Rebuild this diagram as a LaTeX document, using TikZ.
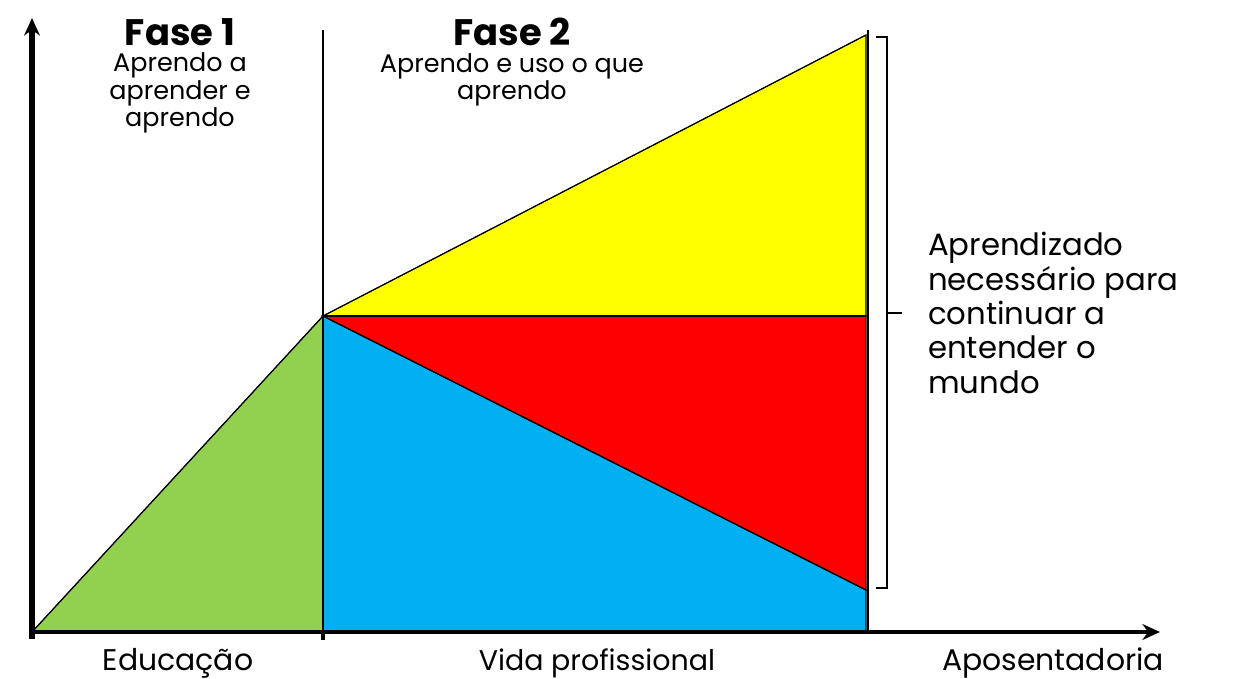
\documentclass[tikz,border=0pt]{standalone}
\usepackage{fontspec}
\setmainfont{Poppins}
\usetikzlibrary{arrows.meta, positioning}

\begin{document}
\begin{tikzpicture}[
      x=0.02cm, y=-0.02cm,
      area/.style={draw=black, line width=0.6pt},
      axis/.style={-{Stealth[length=10pt, width=9pt]}, black},
      phase/.style={font=\fontsize{21}{24}\selectfont\bfseries, anchor=north, inner sep=1pt},
      note/.style={font=\fontsize{14.5}{15.5}\selectfont, align=center, anchor=north, inner sep=1pt},
      label/.style={font=\fontsize{17}{19}\selectfont, anchor=base}
    ]
      \useasboundingbox (0,0) rectangle (1242,679);

      % Key points
      \coordinate (orig) at (32,632);
      \coordinate (peak) at (323,316);
      \coordinate (split) at (323,632);
      \coordinate (ytop) at (866,35);
      \coordinate (ymid) at (866,316);
      \coordinate (rlow) at (866,590);
      \coordinate (bend) at (866,632);
      \coordinate (yend) at (32,18);
      \coordinate (xend) at (1160,632);

      % Coloured areas
      \fill[area, fill={rgb,255:red,146;green,208;blue,80}] (orig) -- (peak) -- (split) -- cycle;
      \fill[area, fill={rgb,255:red,0;green,176;blue,240}] (peak) -- (rlow) -- (bend) -- (split) -- cycle;
      \fill[area, fill={rgb,255:red,255;green,0;blue,0}] (peak) -- (ymid) -- (rlow) -- cycle;
      \fill[area, fill={rgb,255:red,255;green,255;blue,0}] (peak) -- (ytop) -- (ymid) -- cycle;
      \draw[area] (orig) -- (peak);
      \draw[area] (peak) -- (ytop);
      \draw[area] (peak) -- (ymid);
      \draw[area] (peak) -- (rlow);

      % Dividers
      \coordinate (divtop) at (323,30);
      \coordinate (divbot) at (323,640);
      \coordinate (endtop) at (868,30);
      \coordinate (endbot) at (868,632);
      \draw[line width=1.2pt] (divtop) -- (split);
      \draw[line width=2.4pt] (split) -- (divbot);
      \draw[line width=1.2pt] (endtop) -- (endbot);

      % Axes
      \draw[axis, line width=3.2pt] ([yshift=-4pt]orig) -- (yend);
      \draw[axis, line width=1.8pt] (orig) -- (xend);

      % Bracket
      \coordinate (brtop) at (887,37);
      \coordinate (brbot) at (887,588);
      \coordinate (brmid) at (887,313);
      \coordinate (brtick) at (902,313);
      \draw[line width=1pt] ([xshift=-6pt]brtop) -- (brtop) -- (brbot) -- ([xshift=-6pt]brbot);
      \draw[line width=1pt] (brmid) -- (brtick);

      % Phase texts
      \node[phase] (fase1) at (180,16) {Fase 1};
      \node[note, below=2pt of fase1] (nota1) {Aprendo a\\aprender e\\aprendo};
      \node[phase] (fase2) at (512,16) {Fase 2};
      \node[note, below=2pt of fase2] (nota2) {Aprendo e uso o que\\aprendo};

      % Side text
      \node[font=\fontsize{17.5}{19.6}\selectfont, align=left, anchor=west] (lado) at (922,313)
        {Aprendizado\\necessário para\\continuar a\\entender o\\mundo};

      % Axis labels
      \node[label] (edu) at (178,670) {Educação};
      \node[label, font=\fontsize{16.2}{19}\selectfont] (vida) at (597,670) {Vida profissional};
      \node[label] (apos) at (1053,670) {Aposentadoria};
    \end{tikzpicture}
\end{document}
